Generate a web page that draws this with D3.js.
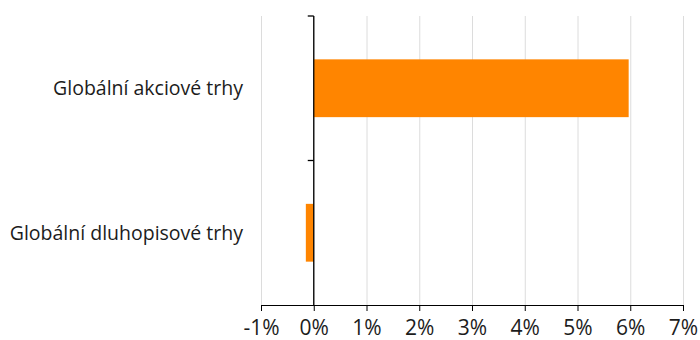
<!DOCTYPE html>
<html>
<head>
<meta charset="utf-8">
<script src="https://cdn.jsdelivr.net/npm/d3@7"></script>
<style>
  body { margin: 0; background: #fff; }
  svg { display: block; font-family: "Open Sans", "Noto Sans", sans-serif; }
</style>
</head>
<body>
<div id="chart"></div>
<script>
// data
const categories = ["Globální akciové trhy", "Globální dluhopisové trhy"];
const values = [5.97, -0.15];
const xTicks = [-1, 0, 1, 2, 3, 4, 5, 6, 7];

const width = 700;
const height = 340;
const margin = { top: 16, right: 17, bottom: 35, left: 261 };

const svg = d3.select('#chart')
  .append('svg')
  .attr('width', width)
  .attr('height', height);

const xScale = d3.scaleLinear()
  .domain([-1, 7])
  .range([margin.left, width - margin.right]);

const yScale = d3.scaleBand()
  .domain(categories)
  .range([margin.top, height - margin.bottom])
  .paddingInner(0.6)
  .paddingOuter(0.3);

// vertical gridlines
svg.append('g')
  .selectAll('line')
  .data(xTicks)
  .join('line')
  .attr('x1', d => xScale(d) + 0.5)
  .attr('x2', d => xScale(d) + 0.5)
  .attr('y1', margin.top)
  .attr('y2', height - margin.bottom)
  .attr('stroke', '#dcdcdc')
  .attr('stroke-width', 1);

// bars
svg.append('g')
  .selectAll('rect')
  .data(values)
  .join('rect')
  .attr('x', d => xScale(Math.min(0, d)))
  .attr('width', d => Math.abs(xScale(d) - xScale(0)))
  .attr('y', (d, i) => yScale(categories[i]))
  .attr('height', yScale.bandwidth())
  .attr('fill', '#ff8500');

// bottom axis
const xAxis = d3.axisBottom(xScale)
  .tickValues(xTicks)
  .tickSize(6)
  .tickSizeOuter(0)
  .tickFormat(d => d + '%');

const gx = svg.append('g')
  .attr('transform', `translate(0, ${height - margin.bottom})`)
  .call(xAxis);
gx.select('.domain').attr('stroke', '#000');
gx.selectAll('.tick line').attr('stroke', '#000');
gx.selectAll('.tick text')
  .attr('font-size', 21)
  .attr('font-family', '"Open Sans", sans-serif')
  .attr('fill', '#1c1c1c')
  .attr('dy', '0.98em');

// zero axis with category ticks at band edges
const bandStep = (height - margin.bottom - margin.top) / categories.length;
const yEdges = d3.range(categories.length).map(i => margin.top + i * bandStep);
const zeroX = xScale(0);
svg.append('line')
  .attr('x1', zeroX).attr('x2', zeroX)
  .attr('y1', margin.top).attr('y2', height - margin.bottom)
  .attr('stroke', '#000')
  .attr('stroke-width', 1.3);
svg.append('g')
  .selectAll('line')
  .data(yEdges)
  .join('line')
  .attr('x1', zeroX - 6).attr('x2', zeroX)
  .attr('y1', d => d).attr('y2', d => d)
  .attr('stroke', '#000')
  .attr('stroke-width', 1.3);

// category labels
svg.append('g')
  .selectAll('text')
  .data(categories)
  .join('text')
  .attr('x', xScale(-1) - 18)
  .attr('y', d => yScale(d) + yScale.bandwidth() / 2)
  .attr('dy', '0.35em')
  .attr('text-anchor', 'end')
  .attr('font-size', 19.5)
  .attr('fill', '#1c1c1c')
  .text(d => d);
</script>
</body>
</html>
